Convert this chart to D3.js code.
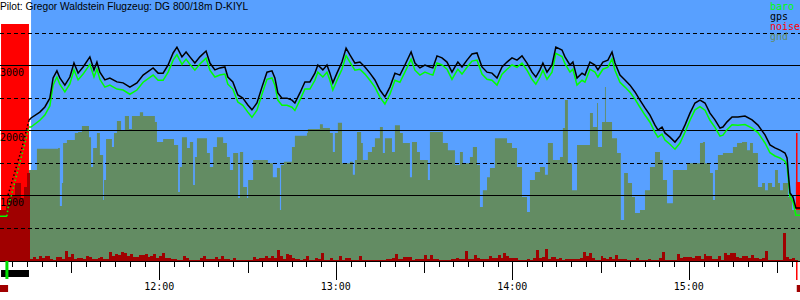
<!DOCTYPE html>
<html>
<head>
<meta charset="utf-8">
<script src="https://cdn.jsdelivr.net/npm/d3@7"></script>
<style>
  body { margin: 0; background: #fff; }
  svg { display: block; }
  text { font-family: "DejaVu Sans Mono", monospace; font-size: 10px; }
</style>
</head>
<body>
<div id="chart"></div>
<script>
// all times are minutes after 11:00
const title = "Pilot: Gregor Waldstein Flugzeug: DG 800/18m D-KIYL";
const viewStart = 5.85, viewEnd = 277.8;
const takeoff = 8.2;        // start of tow / engine climb
const glideStart = 16.4;    // engine off, soaring

// logger fixes: gps and baro altitude in m
const trackTime = [5.8, 8.2, 8.6, 10.9, 13.3, 15.7, 16.4, 19.4, 21.1, 22.8, 23.9, 25.2, 26.2, 27.9, 29.6, 31.0, 32.4, 34.1, 36.4, 37.8,
  38.8, 39.8, 41.5, 43.2, 45.6, 47.7, 50.0, 52.4, 54.5, 57.9, 59.6, 61.3, 63.0, 64.7, 66.0, 67.7, 69.1, 70.4, 72.1, 73.8,
  75.9, 77.2, 78.9, 80.6, 82.3, 83.3, 85.0, 86.7, 88.4, 90.1, 91.5, 93.2, 94.9, 96.6, 98.3, 99.3, 100.3, 101.7, 103.4, 105.1,
  106.1, 107.8, 109.5, 111.2, 112.9, 113.9, 115.6, 117.0, 118.0, 119.0, 120.4, 122.1, 123.5, 124.8, 126.5, 128.2, 129.9, 131.6, 133.3, 135.0,
  136.7, 138.4, 140.1, 141.8, 143.5, 145.6, 146.9, 148.6, 150.3, 152.0, 153.0, 154.4, 156.1, 157.8, 159.5, 160.5, 161.5, 162.9, 164.6, 166.3,
  168.0, 169.7, 171.4, 173.1, 174.8, 176.5, 178.2, 179.9, 181.6, 183.3, 185.0, 186.7, 188.0, 189.4, 190.4, 191.8, 193.5, 194.8, 196.9, 197.9,
  199.6, 200.6, 202.0, 203.7, 204.7, 206.4, 208.1, 209.1, 210.8, 212.5, 213.9, 214.9, 216.6, 218.3, 220.0, 221.7, 223.4, 225.1, 226.8, 228.5,
  229.5, 230.9, 231.9, 233.6, 235.3, 237.0, 238.7, 240.4, 242.1, 243.8, 245.5, 247.2, 248.9, 250.6, 251.6, 253.0, 254.7, 256.7, 259.1, 261.5,
  263.5, 265.9, 267.6, 269.3, 271.0, 272.7, 273.4, 274.4, 275.4, 276.4, 277.8];
const gpsAlt = [null, null, 1000, 1355, 1725, 2150, 2185, 2275, 2355, 2490, 2800, 2910, 2800, 2690, 2815, 3030, 2875, 2970, 3125, 2925,
  3045, 2890, 2770, 2800, 2740, 2725, 2660, 2725, 2845, 2955, 2875, 2875, 3000, 3185, 3275, 3125, 3200, 3125, 3030, 3125,
  3215, 3030, 2925, 2955, 2970, 2815, 2740, 2540, 2490, 2385, 2310, 2415, 2660, 2890, 2910, 2800, 2570, 2490, 2490, 2460,
  2415, 2570, 2740, 2740, 2875, 3000, 2925, 3000, 2875, 2725, 2875, 3045, 3260, 3155, 3030, 3045, 2970, 2875, 2770, 2615,
  2510, 2660, 2875, 2845, 3000, 3200, 3030, 2955, 3000, 2970, 2955, 3140, 3110, 3045, 2890, 2970, 3045, 2970, 3075, 3170,
  3185, 2970, 2890, 2875, 2800, 2970, 3045, 3110, 3075, 3140, 3030, 2890, 2815, 2925, 3030, 2890, 3000, 3275, 3230, 3125,
  3000, 3045, 2800, 2875, 2845, 3045, 3000, 2925, 3045, 3075, 3200, 3030, 2845, 2770, 2690, 2585, 2460, 2340, 2230, 2075,
  2000, 2045, 1955, 1890, 1815, 1910, 2075, 2260, 2415, 2460, 2415, 2260, 2155, 2030, 2045, 2125, 2200, 2200, 2215, 2155,
  2075, 1925, 1770, 1725, 1690, 1645, 1570, 1030, 970, 800, 800];
const baroAlt = [675, 675, 800, 1200, 1620, 2045, 2045, 2150, 2230, 2370, 2690, 2815, 2700, 2585, 2710, 2925, 2770, 2860, 3010, 2815,
  2940, 2780, 2660, 2690, 2630, 2615, 2550, 2615, 2735, 2845, 2765, 2765, 2890, 3075, 3160, 3010, 3090, 3010, 2920, 3015,
  3105, 2920, 2815, 2845, 2860, 2705, 2630, 2430, 2380, 2275, 2195, 2305, 2550, 2780, 2800, 2690, 2460, 2380, 2380, 2350,
  2300, 2460, 2630, 2630, 2765, 2890, 2815, 2890, 2765, 2615, 2765, 2935, 3145, 3045, 2920, 2935, 2860, 2765, 2660, 2505,
  2400, 2550, 2765, 2735, 2890, 3090, 2920, 2845, 2890, 2860, 2845, 3030, 3000, 2935, 2780, 2860, 2935, 2860, 2965, 3060,
  3075, 2860, 2780, 2765, 2690, 2860, 2935, 3000, 2965, 3030, 2920, 2780, 2705, 2815, 2920, 2780, 2890, 3180, 3130, 3020,
  2890, 2935, 2690, 2765, 2735, 2935, 2890, 2815, 2935, 2965, 3095, 2920, 2735, 2660, 2580, 2475, 2350, 2230, 2120, 1965,
  1890, 1935, 1845, 1780, 1705, 1800, 1965, 2150, 2310, 2360, 2305, 2150, 2040, 1905, 1920, 2005, 2080, 2075, 2085, 2030,
  1960, 1800, 1650, 1600, 1570, 1520, 1450, 970, 900, 690, 690];

// terrain elevation below the track in m (step profile)
const gndTime = [15.7, 18.4, 25.6, 26.2, 26.9, 27.3, 28.6, 31.3, 32.4, 33.7, 36.1, 36.8, 37.5, 38.8, 39.8, 40.9, 41.2, 41.9, 43.9, 44.6,
  45.6, 47.0, 48.3, 49.7, 50.7, 53.4, 54.5, 58.5, 59.2, 61.3, 65.0, 66.4, 67.0, 67.7, 69.4, 70.4, 71.5, 72.1, 72.8, 76.2,
  77.2, 78.3, 79.6, 81.7, 83.0, 84.0, 85.1, 86.8, 87.4, 88.5, 89.8, 90.2, 91.9, 96.9, 98.6, 100.0, 101.0, 101.4, 102.4, 105.1,
  106.1, 110.2, 110.5, 114.6, 115.6, 118.0, 119.0, 119.7, 120.7, 122.1, 124.8, 125.8, 126.5, 127.2, 128.6, 129.2, 130.9, 132.3, 133.3, 135.0,
  136.0, 136.7, 139.1, 140.1, 141.8, 142.8, 145.2, 145.9, 147.6, 148.6, 151.3, 152.0, 156.4, 158.1, 160.5, 162.2, 163.2, 165.6, 166.6, 168.0,
  169.0, 170.0, 171.4, 172.4, 174.1, 178.2, 179.9, 181.6, 183.3, 185.0, 186.0, 187.7, 189.4, 191.1, 192.1, 193.8, 196.2, 197.2, 197.9, 198.9,
  200.3, 202.0, 206.4, 207.4, 208.8, 209.1, 210.5, 211.5, 211.8, 213.9, 215.6, 216.9, 218.0, 219.3, 220.7, 221.7, 223.4, 225.1, 226.8, 228.5,
  230.2, 231.2, 232.6, 234.6, 239.4, 243.8, 244.8, 245.5, 247.2, 248.2, 248.9, 249.9, 251.6, 255.0, 256.4, 258.1, 259.8, 260.8, 261.8, 263.5,
  264.9, 265.9, 266.9, 268.3, 269.3, 270.3, 271.0, 272.0, 273.7, 275.1, 277.8];
const gndAlt = [1385, 1710, 1725, 830, 1185, 1800, 1845, 1955, 1970, 2060, 1890, 1430, 1725, 1955, 1615, 925, 1230, 1860, 1740, 1955,
  2140, 2000, 2215, 2015, 2215, 2275, 2215, 2125, 1815, 1860, 1770, 1045, 1430, 1890, 1725, 1815, 1155, 1585, 1875, 1645,
  1430, 1740, 1890, 1800, 1585, 1385, 1645, 955, 1660, 1125, 955, 1230, 1540, 1490, 1275, 1415, 770, 1460, 1510, 1740,
  1910, 1955, 2015, 2090, 2030, 1955, 1660, 1955, 2110, 1490, 1510, 1310, 1540, 1970, 1800, 1540, 1660, 1740, 1875, 2045,
  1645, 1875, 1660, 2075, 1955, 1800, 1275, 1815, 1660, 1540, 1230, 1970, 1800, 1690, 1460, 1660, 1490, 1585, 1740, 1460,
  815, 1075, 1275, 1415, 1875, 1800, 1725, 1430, 970, 740, 1230, 1355, 1430, 1310, 1800, 1540, 1585, 2030, 2460, 1490,
  1075, 1770, 2260, 2045, 2415, 1740, 2125, 2660, 2125, 1875, 1645, 615, 1340, 1185, 970, 725, 770, 1075, 1430, 1660,
  1540, 1230, 875, 1385, 1490, 1800, 1815, 1490, 1340, 925, 1385, 1615, 1645, 1740, 1800, 1815, 1690, 1800, 1645, 1125,
  1185, 1075, 1185, 1125, 1385, 1185, 1075, 1185, 970, 770, 770];

// engine noise level, one value per minute from noiseStart
const noiseStart = 6;
const noise = [
  204, 204, 224, 264, 264, 312, 312, 252, 296, 352,
  8, 16, 8, 20, 12, 20, 20, 8, 4, 16,
  16, 8, 40, 16, 28, 8, 12, 12, 8, 20,
  16, 8, 8, 12, 16, 8, 8, 36, 20, 28,
  24, 36, 32, 20, 28, 16, 16, 24, 24, 28,
  16, 20, 28, 12, 20, 32, 12, 12, 8, 8,
  4, 4, 20, 12, 4, 4, 4, 4, 12, 20,
  8, 8, 8, 16, 8, 20, 8, 8, 4, 12,
  4, 4, 4, 4, 4, 4, 16, 8, 12, 12,
  20, 12, 20, 12, 44, 20, 8, 28, 24, 12,
  8, 8, 4, 8, 20, 4, 4, 12, 8, 32,
  4, 4, 12, 4, 4, 20, 4, 12, 12, 4,
  4, 4, 20, 4, 4, 4, 4, 4, 4, 4,
  4, 8, 8, 12, 28, 8, 8, 16, 16, 16,
  4, 8, 8, 8, 24, 8, 24, 8, 8, 4,
  4, 4, 4, 8, 8, 12, 8, 8, 40, 8,
  8, 24, 12, 8, 8, 8, 20, 12, 12, 24,
  12, 32, 20, 12, 12, 12, 4, 4, 4, 8,
  4, 12, 44, 12, 16, 48, 8, 16, 16, 8,
  12, 4, 8, 8, 8, 8, 8, 12, 36, 20,
  32, 12, 4, 4, 20, 12, 8, 16, 8, 24,
  8, 8, 8, 4, 4, 4, 12, 4, 4, 4,
  8, 4, 4, 4, 12, 36, 4, 4, 4, 4,
  28, 12, 16, 16, 16, 12, 20, 20, 8, 28,
  20, 20, 8, 8, 20, 4, 32, 24, 32, 32,
  16, 12, 20, 20, 12, 24, 12, 12, 8, 12,
  40, 4, 4, 4, 4, 4, 112, 16, 8, 12, 4];

// engine running periods [start, end, noise level]
const engineRuns = [[6.2, 15.7, 948], [276.4, 277.8, 316]];
const noiseSpike = [276.7, 512];
const engineBar = [6.2, 15.7];
const fixMarks = [[5.85, 8.6], [276.7, 277.8]];

const legend = [["baro", "#00ff00"], ["gps", "#000000"], ["noise", "#ff0000"], ["gnd", "#638c63"]];
const gridLevels = [500, 1000, 1500, 2000, 2500, 3000, 3500];
const labelLevels = [1000, 2000, 3000];

const width = 800, height = 300, base = 261;
const t0 = new Date(2000, 0, 1, 11, 0, 0);
const at = m => new Date(+t0 + m * 60000);

const x = d3.scaleTime().domain([at(viewStart), at(viewEnd)]).range([0, width]);
const y = d3.scaleLinear().domain([0, 4000]).range([260, 0]);
const yN = d3.scaleLinear().domain([0, 1000]).range([base, base - 250]);

const svg = d3.select("#chart").append("svg")
    .attr("width", width)
    .attr("height", height);

// soaring period background
svg.append("rect")
    .attr("x", x(at(glideStart))).attr("y", 0)
    .attr("width", width - x(at(glideStart))).attr("height", base)
    .attr("fill", "#58a0ff");

// engine runs
svg.selectAll("rect.engine")
    .data(engineRuns)
    .enter().append("rect")
    .attr("class", "engine")
    .attr("x", d => x(at(d[0])))
    .attr("y", d => yN(d[2]))
    .attr("width", d => x(at(d[1])) - x(at(d[0])))
    .attr("height", d => base - yN(d[2]))
    .attr("fill", "#ff0000");
svg.append("line")
    .attr("x1", x(at(noiseSpike[0]))).attr("x2", x(at(noiseSpike[0])))
    .attr("y1", yN(noiseSpike[1])).attr("y2", 280)
    .attr("stroke", "#ff0000").attr("stroke-width", 1.5);

// ground
const gndData = gndTime.map((t, i) => ({ t, a: gndAlt[i] }));
svg.append("path")
    .datum(gndData)
    .attr("d", d3.area().curve(d3.curveStepAfter)
        .x(d => x(at(d.t))).y0(base).y1(d => y(d.a)))
    .attr("fill", "#638c63");

// noise bars
svg.selectAll("rect.noise")
    .data(noise)
    .enter().append("rect")
    .attr("class", "noise")
    .attr("x", (d, i) => x(at(noiseStart + i)))
    .attr("width", (d, i) => x(at(noiseStart + i + 1)) - x(at(noiseStart + i)))
    .attr("y", d => yN(d))
    .attr("height", d => base - yN(d))
    .attr("fill", "#a00000")
    .attr("shape-rendering", "crispEdges");

// grid
svg.selectAll("line.grid")
    .data(gridLevels)
    .enter().append("line")
    .attr("class", "grid")
    .attr("x1", 0).attr("x2", width)
    .attr("y1", d => Math.round(y(d)) + 0.5).attr("y2", d => Math.round(y(d)) + 0.5)
    .attr("stroke", "#000")
    .attr("stroke-dasharray", d => d % 1000 ? "4,3" : null);

svg.selectAll("text.ylab")
    .data(labelLevels)
    .enter().append("text")
    .attr("class", "ylab")
    .attr("x", 0).attr("y", d => y(d) + 11)
    .text(d => d);

// altitude lines
const track = trackTime.map((t, i) => ({ t, gps: gpsAlt[i], baro: baroAlt[i] }));
const engineEnd = engineRuns[0][1];
const drawLine = (key, color) => {
    const solid = d3.line()
        .defined(d => d[key] != null && (d.t <= takeoff || d.t >= engineEnd))
        .x(d => x(at(d.t))).y(d => y(d[key]));
    const dotted = d3.line()
        .defined(d => d[key] != null && d.t >= takeoff && d.t <= engineEnd)
        .x(d => x(at(d.t))).y(d => y(d[key]));
    svg.append("path").datum(track).attr("d", solid)
        .attr("fill", "none").attr("stroke", color).attr("stroke-width", 1.5);
    svg.append("path").datum(track).attr("d", dotted)
        .attr("fill", "none").attr("stroke", color).attr("stroke-width", 1.5)
        .attr("stroke-dasharray", "1.5,2.5");
};
drawLine("baro", "#00ff00");
drawLine("gps", "#000000");

// time axis
svg.append("line")
    .attr("x1", 0).attr("x2", width).attr("y1", base + 0.5).attr("y2", base + 0.5)
    .attr("stroke", "#000");
const ticks = x.ticks(d3.timeMinute.every(5));
svg.selectAll("line.tick")
    .data(ticks)
    .enter().append("line")
    .attr("class", "tick")
    .attr("x1", d => Math.round(x(d)) + 0.5).attr("x2", d => Math.round(x(d)) + 0.5)
    .attr("y1", base)
    .attr("y2", d => base + (d.getMinutes() === 0 ? 19 : d.getMinutes() === 30 ? 12 : 6))
    .attr("stroke", "#000");
svg.selectAll("text.xlab")
    .data(ticks.filter(d => d.getMinutes() === 0))
    .enter().append("text")
    .attr("class", "xlab")
    .attr("x", d => x(d)).attr("y", 290)
    .attr("text-anchor", "middle")
    .text(d3.timeFormat("%H:%M"));

// timeline markers below the axis
svg.append("rect")
    .attr("x", x(at(engineBar[0]))).attr("y", 270)
    .attr("width", x(at(engineBar[1])) - x(at(engineBar[0]))).attr("height", 7)
    .attr("fill", "#000");
svg.append("line")
    .attr("x1", x(at(takeoff))).attr("x2", x(at(takeoff)))
    .attr("y1", base).attr("y2", 279)
    .attr("stroke", "#00e000").attr("stroke-width", 3);
svg.selectAll("rect.fix")
    .data(fixMarks)
    .enter().append("rect")
    .attr("class", "fix")
    .attr("x", d => x(at(d[0]))).attr("y", 285)
    .attr("width", d => x(at(d[1])) - x(at(d[0]))).attr("height", 7)
    .attr("fill", "#a00000");

// title and legend
svg.append("text")
    .attr("x", 0).attr("y", 10)
    .style("font-family", "'Liberation Sans', Arial, sans-serif")
    .style("font-size", "10.2px")
    .text(title);

svg.selectAll("text.legend")
    .data(legend)
    .enter().append("text")
    .attr("class", "legend")
    .attr("x", 770).attr("y", (d, i) => 10 + i * 10)
    .attr("fill", d => d[1])
    .text(d => d[0]);
</script>
</body>
</html>
